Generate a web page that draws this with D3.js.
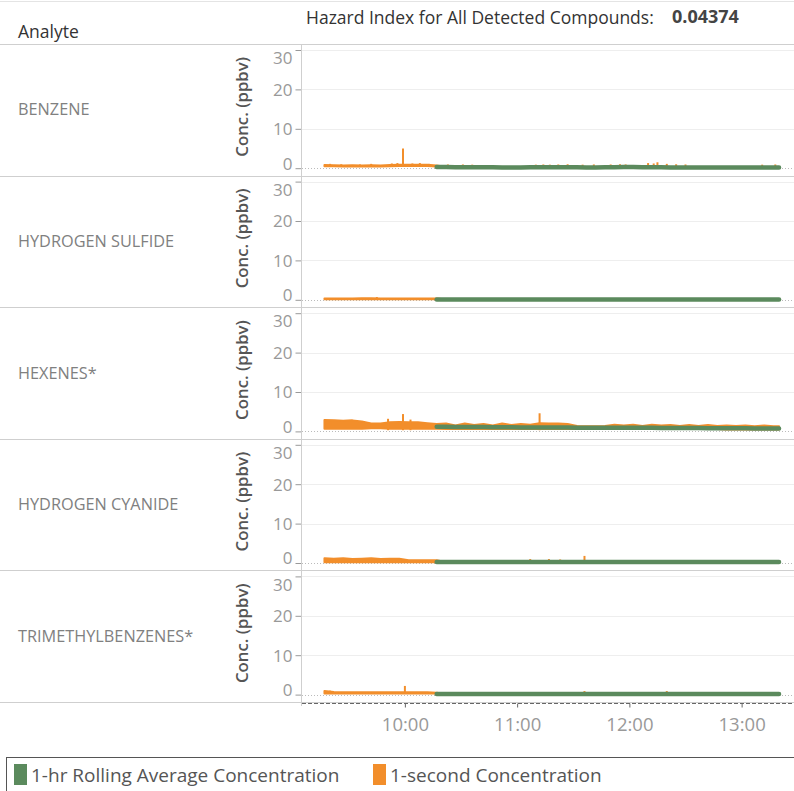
<!DOCTYPE html>
<html><head><meta charset="utf-8">
<script src="https://cdn.jsdelivr.net/npm/d3@7"></script>
<style>body{margin:0;background:#fff}svg{display:block}</style>
</head><body>
<svg id="chart" width="794" height="791"></svg>
<script>
// ---------------- DATA ----------------
const analytes = ["BENZENE","HYDROGEN SULFIDE","HEXENES*","HYDROGEN CYANIDE","TRIMETHYLBENZENES*"];
const hazardIndex = "0.04374";
const yTicks = [0, 10, 20, 30];
const xTickLabels = ["10:00", "11:00", "12:00", "13:00"];
const seriesNames = ["1-hr Rolling Average Concentration", "1-second Concentration"];
// sample times (minutes after midnight): 9:17, 9:22 ... 13:17, 13:20
const sampleTimes = d3.range(557, 800, 5).concat([800]);

// 1-second concentration: envelope (low / high) per 5-min bin, ppbv
const benzeneHi = [0.8,0.75,0.7,0.75,0.7,0.75,0.7,0.8,0.85,0.9,0.85,0.85,0.7,
  0.3,0.3,0.3,0.3,0.3,0.3,0.3,0.3,0.3,0.3, 0.3,0.3,0.3,0.3,0.3,0.3,0.3,0.3,0.3,0.3,
  0.3,0.3,0.3,0.3,0.3,0.3,0.3,0.3,0.3,0.3, 0.3,0.3,0.3,0.3,0.3,0.3,0.3];
const benzeneLo = [0.5,0.5,0.45,0.5,0.45,0.5,0.45,0.5,0.55,0.6,0.55,0.55,0.45,
  0.1,0.1,0.1,0.1,0.1,0.1,0.1,0.1,0.1,0.1, 0.1,0.1,0.1,0.1,0.1,0.1,0.1,0.1,0.1,0.1,
  0.1,0.1,0.1,0.1,0.1,0.1,0.1,0.1,0.1,0.1, 0.1,0.1,0.1,0.1,0.1,0.1,0.1];
const sulfideHi = [0.35,0.35,0.35,0.35,0.4,0.4,0.35,0.35,0.35,0.35,0.35,0.35,0.3,
  0.1,0.1,0.1,0.1,0.1,0.1,0.1,0.1,0.1,0.1, 0.1,0.1,0.1,0.1,0.1,0.1,0.1,0.1,0.1,0.1,
  0.1,0.1,0.1,0.1,0.1,0.1,0.1,0.1,0.1,0.1, 0.1,0.1,0.1,0.1,0.1,0.1,0.1];
const sulfideLo = [0.15,0.15,0.15,0.15,0.15,0.15,0.15,0.15,0.15,0.15,0.15,0.15,0.15,
  0,0,0,0,0,0,0,0,0,0, 0,0,0,0,0,0,0,0,0,0, 0,0,0,0,0,0,0,0,0,0, 0,0,0,0,0,0,0];
const hexenesHi = [2.9,2.8,2.7,2.8,2.5,2.0,2.0,2.3,2.4,2.3,2.3,2.1,1.9,
  2.0,1.5,2.0,1.6,1.9,1.5,2.0,1.6,1.9,1.7, 2.1,2.0,2.0,1.9,1.4,1.3,1.3,1.4,1.7,1.5,
  1.7,1.4,1.7,1.5,1.6,1.4,1.6,1.4,1.6,1.4, 1.5,1.4,1.5,1.3,1.5,1.3,1.3];
const hexenesLo = [0.7,0.7,0.7,0.7,0.7,0.8,0.8,0.7,0.7,0.7,0.7,0.7,0.7,
  0.6,0.6,0.6,0.6,0.6,0.6,0.6,0.6,0.6,0.6, 0.6,0.6,0.6,0.6,0.6,0.6,0.6,0.6,0.6,0.6,
  0.6,0.6,0.6,0.6,0.6,0.6,0.6,0.6,0.6,0.6, 0.5,0.5,0.5,0.5,0.5,0.5,0.5];
const cyanideHi = [1.2,1.1,1.2,1.0,1.1,1.2,1.0,1.1,1.1,0.7,0.7,0.7,0.7,
  0.2,0.2,0.2,0.2,0.2,0.2,0.2,0.2,0.2,0.2, 0.2,0.2,0.2,0.2,0.2,0.2,0.2,0.2,0.2,0.2,
  0.2,0.2,0.2,0.2,0.2,0.2,0.2,0.2,0.2,0.2, 0.2,0.2,0.2,0.2,0.2,0.2,0.2];
const cyanideLo = [0.2,0.2,0.2,0.2,0.2,0.2,0.2,0.2,0.2,0.2,0.2,0.2,0.2,
  0.05,0.05,0.05,0.05,0.05,0.05,0.05,0.05,0.05,0.05, 0.05,0.05,0.05,0.05,0.05,0.05,0.05,0.05,0.05,0.05,
  0.05,0.05,0.05,0.05,0.05,0.05,0.05,0.05,0.05,0.05, 0.05,0.05,0.05,0.05,0.05,0.05,0.05];
const tmbHi = [0.9,0.65,0.6,0.6,0.6,0.6,0.6,0.6,0.6,0.6,0.6,0.6,0.5,
  0.15,0.15,0.15,0.15,0.15,0.15,0.15,0.15,0.15,0.15, 0.15,0.15,0.15,0.15,0.15,0.15,0.15,0.15,0.15,0.15,
  0.15,0.15,0.15,0.15,0.15,0.15,0.15,0.15,0.15,0.15, 0.15,0.15,0.15,0.15,0.15,0.15,0.15];
const tmbLo = [0.3,0.3,0.3,0.3,0.3,0.3,0.3,0.3,0.3,0.3,0.3,0.3,0.3,
  0,0,0,0,0,0,0,0,0,0, 0,0,0,0,0,0,0,0,0,0, 0,0,0,0,0,0,0,0,0,0, 0,0,0,0,0,0,0];

// 1-second concentration: short spikes [minute, peak ppbv]
const benzeneSpikes = [[560,1.1],[566,1.0],[576,0.95],[582,1.1],[593,1.2],[596,1.3],[599,5.0],[604,1.2],
  [608,1.3],[613,1.1],[623,0.95],[631,0.95],[636,0.9],[670,0.9],[674,0.95],[677.5,0.9],[682,0.95],[687,1.0],
  [695,0.9],[701,0.95],[710,0.95],[715,1.0],[718,0.95],[730,1.3],[733,1.2],[735,1.5],[740,1.1],[745,1.0],
  [750,0.95],[791,0.9],[798,0.95]];
const sulfideSpikes = [[585,0.7]];
const hexenesSpikes = [[591,3.2],[599,4.4],[603,3.0],[672,4.6]];
const cyanideSpikes = [[667,1.0],[677,1.0],[683,0.9],[696,1.8]];
const tmbSpikes = [[560,1.0],[600,2.2],[696,0.9],[740,0.9]];

// 1-hr rolling average (starts 10:17)
const benzeneAvg = [null,null,null,null,null,null,null,null,null,null,null,null,
  0.3,0.3,0.25,0.25,0.25,0.25,0.25,0.2,0.2,0.2, 0.25,0.25,0.25,0.25,0.25,0.25,0.2,0.2,0.25,0.25,
  0.3,0.3,0.25,0.25,0.25,0.2,0.2,0.2,0.2,0.2, 0.2,0.2,0.2,0.2,0.2,0.2,0.2,0.2];
const sulfideAvg = [null,null,null,null,null,null,null,null,null,null,null,null,
  0.1,0.1,0.1,0.1,0.1,0.1,0.1,0.1,0.1,0.1, 0.1,0.1,0.1,0.1,0.1,0.1,0.1,0.1,0.1,0.1,
  0.1,0.1,0.1,0.1,0.1,0.1,0.1,0.1,0.1,0.1, 0.1,0.1,0.1,0.1,0.1,0.1,0.1,0.1];
const hexenesAvg = [null,null,null,null,null,null,null,null,null,null,null,null,
  1.15,1.15,1.1,1.1,1.1,1.1,1.05,1.05,1.05,1.0, 1.0,1.0,1.0,1.0,1.0,0.95,0.95,0.95,0.95,0.9,
  0.9,0.9,0.9,0.9,0.85,0.85,0.85,0.85,0.85,0.8, 0.8,0.8,0.8,0.8,0.75,0.75,0.75,0.75];
const cyanideAvg = [null,null,null,null,null,null,null,null,null,null,null,null,
  0.25,0.25,0.25,0.25,0.25,0.25,0.25,0.25,0.25,0.25, 0.25,0.25,0.25,0.25,0.25,0.25,0.25,0.25,0.25,0.25,
  0.25,0.25,0.25,0.25,0.25,0.25,0.25,0.25,0.25,0.25, 0.25,0.25,0.25,0.25,0.25,0.25,0.25,0.25];
const tmbAvg = [null,null,null,null,null,null,null,null,null,null,null,null,
  0.15,0.15,0.15,0.15,0.15,0.15,0.15,0.15,0.15,0.15, 0.15,0.15,0.15,0.15,0.15,0.15,0.15,0.15,0.15,0.15,
  0.15,0.15,0.15,0.15,0.15,0.15,0.15,0.15,0.15,0.15, 0.15,0.15,0.15,0.15,0.15,0.15,0.15,0.15];

const panels = [
  {name: analytes[0], hi: benzeneHi, lo: benzeneLo, spikes: benzeneSpikes, avg: benzeneAvg},
  {name: analytes[1], hi: sulfideHi, lo: sulfideLo, spikes: sulfideSpikes, avg: sulfideAvg},
  {name: analytes[2], hi: hexenesHi, lo: hexenesLo, spikes: hexenesSpikes, avg: hexenesAvg},
  {name: analytes[3], hi: cyanideHi, lo: cyanideLo, spikes: cyanideSpikes, avg: cyanideAvg},
  {name: analytes[4], hi: tmbHi, lo: tmbLo, spikes: tmbSpikes, avg: tmbAvg}
];

// ---------------- LAYOUT ----------------
const W = 794, H = 791;
const FONT = "'Open Sans', 'Noto Sans', sans-serif";
const GREEN = "#5b8a5d", ORANGE = "#f28e2b";
const headerBottom = 44, panelH = 131.6, plotLeft = 302, plotRight = 794;
const toMin = s => { const [h, m] = s.split(":").map(Number); return h * 60 + m; };

const svg = d3.select("#chart").style("font-family", FONT);

const x = d3.scaleLinear().domain([545, 808]).range([plotLeft, plotRight]);

// top border
svg.append("line").attr("x1", 0).attr("x2", W).attr("y1", 1.5).attr("y2", 1.5)
  .attr("stroke", "#e4e4e4");

// header
svg.append("text").attr("x", 18).attr("y", 38).attr("font-size", 17.5).attr("fill", "#333")
  .text("Analyte");
svg.append("text").attr("x", 306).attr("y", 24).attr("font-size", 17.5).attr("fill", "#333")
  .text("Hazard Index for All Detected Compounds:");
svg.append("text").attr("x", 672).attr("y", 23).attr("font-size", 18).attr("font-weight", "bold")
  .attr("fill", "#444").text(hazardIndex);

// separators
for (let i = 0; i <= panels.length; i++) {
  const yy = Math.round(headerBottom + i * panelH) + 0.5;
  svg.append("line").attr("x1", 0).attr("x2", W).attr("y1", yy).attr("y2", yy)
    .attr("stroke", "#cfcfcf");
}

panels.forEach((p, i) => {
  const top = headerBottom + i * panelH;
  const y = d3.scaleLinear().domain([0, 30]).range([top + 124.2, top + 6]);
  const g = svg.append("g");

  // analyte label
  g.append("text").attr("x", 18).attr("y", top + panelH / 2 + 5.5).attr("font-size", 16.3)
    .attr("fill", "#808080").text(p.name);

  // axis title
  g.append("text").attr("transform", `translate(248,${top + panelH / 2 - 3}) rotate(-90)`)
    .attr("text-anchor", "middle").attr("font-size", 16.8).attr("font-weight", 600)
    .attr("fill", "#555").text("Conc. (ppbv)");

  // gridlines
  g.selectAll(".grid").data(yTicks.filter(d => d > 0)).join("line")
    .attr("x1", plotLeft).attr("x2", plotRight)
    .attr("y1", d => Math.round(y(d)) + 0.5).attr("y2", d => Math.round(y(d)) + 0.5)
    .attr("stroke", "#eeeeee");
  g.append("line").attr("x1", plotLeft).attr("x2", plotRight)
    .attr("y1", Math.round(y(0)) + 0.5).attr("y2", Math.round(y(0)) + 0.5)
    .attr("stroke", "#bbb").attr("stroke-dasharray", "1,2");

  // y axis
  const ax = g.append("g").attr("transform", `translate(${plotLeft - 0.5},0)`)
    .call(d3.axisLeft(y).tickValues(yTicks).tickSize(6).tickSizeOuter(0).tickPadding(3));
  ax.select(".domain").remove();
  ax.selectAll(".tick line").attr("stroke", "#999");
  ax.selectAll(".tick text").attr("font-family", FONT).attr("font-size", 17).attr("fill", "#999")
    .attr("dy", d => d === 30 ? "0.8em" : d === 0 ? "0.05em" : "0.35em");

  // 1-second concentration envelope
  const rows = sampleTimes.map((t, k) => ({t, lo: p.lo[k], hi: p.hi[k], avg: p.avg[k]}));
  const area = d3.area().x(d => x(d.t)).y0(d => y(d.lo)).y1(d => y(d.hi));
  g.append("path").datum(rows).attr("d", area)
    .attr("fill", ORANGE).attr("stroke", ORANGE).attr("stroke-width", 2)
    .attr("stroke-linejoin", "round");
  g.selectAll(".spike").data(p.spikes).join("line")
    .attr("x1", d => x(d[0])).attr("x2", d => x(d[0]))
    .attr("y1", y(0.3)).attr("y2", d => y(d[1]))
    .attr("stroke", ORANGE).attr("stroke-width", 2);

  // 1-hr rolling average
  const line = d3.line().defined(d => d.avg != null).x(d => x(d.t)).y(d => y(d.avg));
  g.append("path").datum(rows).attr("d", line)
    .attr("fill", "none").attr("stroke", GREEN).attr("stroke-width", 4.5)
    .attr("stroke-linecap", "round").attr("stroke-linejoin", "round");
});

// vertical axis line
svg.append("line").attr("x1", plotLeft - 0.5).attr("x2", plotLeft - 0.5)
  .attr("y1", headerBottom).attr("y2", Math.round(headerBottom + panels.length * panelH) + 4)
  .attr("stroke", "#cfcfcf");

// x axis
const xAxisY = Math.round(headerBottom + panels.length * panelH) + 1.5;
svg.append("line").attr("x1", plotLeft).attr("x2", plotRight).attr("y1", xAxisY).attr("y2", xAxisY)
  .attr("stroke", "#666").attr("stroke-dasharray", "4,2");
const xa = svg.append("g").attr("transform", `translate(0,${xAxisY})`)
  .call(d3.axisBottom(x).tickValues(xTickLabels.map(toMin)).tickSize(4).tickSizeOuter(0)
    .tickPadding(10).tickFormat((d, k) => xTickLabels[k]));
xa.select(".domain").remove();
xa.selectAll(".tick line").attr("stroke", "#666");
xa.selectAll(".tick text").attr("font-family", FONT).attr("font-size", 18.5).attr("fill", "#999");

// legend
svg.append("rect").attr("x", 6.5).attr("y", 757.5).attr("width", W).attr("height", 60)
  .attr("fill", "none").attr("stroke", "#555");
const legendItems = [{label: seriesNames[0], color: GREEN, x: 14}, {label: seriesNames[1], color: ORANGE, x: 373}];
legendItems.forEach(it => {
  svg.append("rect").attr("x", it.x).attr("y", 764).attr("width", 13).attr("height", 21).attr("fill", it.color);
  svg.append("text").attr("x", it.x + 17).attr("y", 782).attr("font-size", 19).attr("fill", "#555")
    .text(it.label);
});
</script>
</body></html>
